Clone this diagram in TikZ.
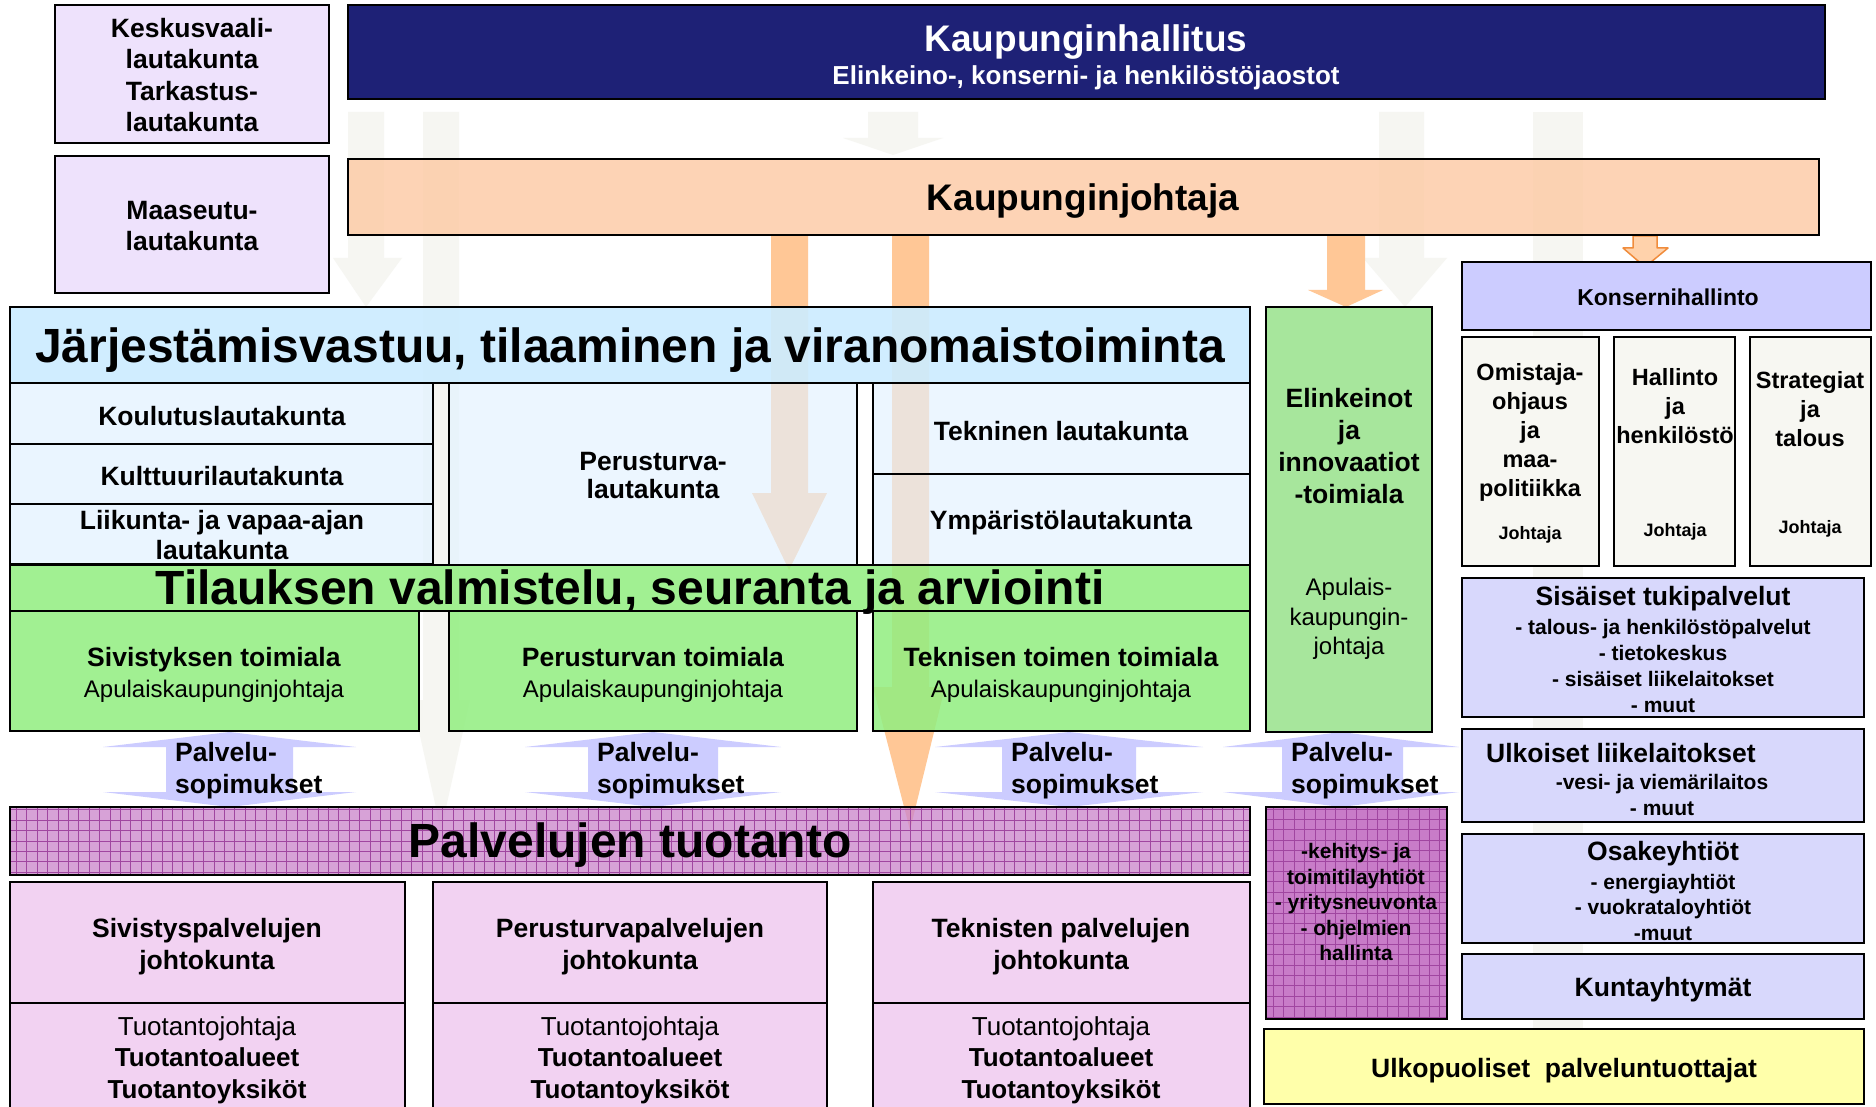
\documentclass[tikz,border=0pt]{standalone}
\usepackage{fontspec}
\setmainfont{Liberation Sans}
\definecolor{navy}{RGB}{30,33,118}
\definecolor{orbox}{RGB}{253,201,163}
\definecolor{lavl}{RGB}{238,226,252}
\definecolor{bluehead}{RGB}{204,236,255}
\definecolor{bluesub}{RGB}{226,242,255}
\definecolor{greenbox}{RGB}{145,238,128}
\definecolor{greencol}{RGB}{160,228,148}
\definecolor{purplebar}{RGB}{204,136,204}
\definecolor{purplebox}{RGB}{200,124,200}
\definecolor{gridpurple}{RGB}{160,70,160}
\definecolor{pinkbox}{RGB}{242,210,242}
\definecolor{konserni}{RGB}{204,204,255}
\definecolor{rightbox}{RGB}{216,216,252}
\definecolor{offwhite}{RGB}{247,247,242}
\definecolor{yellowbox}{RGB}{255,255,170}
\definecolor{palvarrow}{RGB}{204,204,255}
\definecolor{orarrow}{RGB}{255,199,150}
\definecolor{orborder}{RGB}{240,140,60}
\definecolor{grayarrow}{RGB}{246,246,242}
\newcommand\fsz[2]{\fontsize{#1}{#2}\selectfont}
\tikzset{
  bx/.style={draw=black, line width=2pt, inner sep=0pt, rectangle},
  txt/.style={align=center, inner sep=0pt, text=black},
  pgrid/.style={path picture={\draw[gridpurple, line width=0.7pt] (path picture bounding box.south west) grid[step=10.4pt] (path picture bounding box.north east);}},
}
\newcommand\BX[6]{%
  \pgfmathsetmacro\bxcx{(#2+#4)/2}%
  \pgfmathsetmacro\bxcy{(#3+#5)/2}%
  \pgfmathsetmacro\bxw{#4-#2}%
  \pgfmathsetmacro\bxh{#5-#3}%
  \node[bx, #6, minimum width=\bxw pt, minimum height=\bxh pt] (#1) at (\bxcx,\bxcy) {};}
\newcommand\PSarrow[5]{%
  \pgfmathsetmacro\psc{(#2+#5)/2}%
  \fill[palvarrow] (\psc,732) -- (#5,747) -- (#4,747) -- (#4,792) -- (#5,792) -- (\psc,807) -- (#2,792) -- (#3,792) -- (#3,747) -- (#2,747) -- cycle;
  \pgfmathsetmacro\pst{#3+9}%
  \node[txt, anchor=west, align=left, font=\fsz{26.5}{32}\bfseries] (#1) at (\pst,771) {Palvelu-\\sopimukset};}
\begin{document}
\begin{tikzpicture}[x=1pt,y=-1pt]
\useasboundingbox (0,0) rectangle (1876,1107);
\fill[white] (0,0) rectangle (1876,1107);

% faint grey arrows from Kaupunginhallitus
\fill[grayarrow] (348,112) -- (384,112) -- (384,258) -- (402,258) -- (366,307) -- (333,258) -- (348,258) -- cycle;
\fill[grayarrow] (423,112) -- (459,112) -- (459,700) -- (470,700) -- (441,830) -- (412,700) -- (423,700) -- cycle;
\fill[grayarrow] (868,112) -- (918,112) -- (918,138) -- (943,138) -- (893,155) -- (843,138) -- (868,138) -- cycle;
\fill[grayarrow] (1379,112) -- (1424,112) -- (1424,258) -- (1447,258) -- (1405,307) -- (1363,258) -- (1379,258) -- cycle;
\fill[grayarrow] (1533,112) rectangle (1583,1030);

% orange arrows from Kaupunginjohtaja
\fill[orarrow] (771,235) -- (808,235) -- (808,493) -- (827,493) -- (789,570) -- (752,493) -- (771,493) -- cycle;
\fill[orarrow] (892,235) -- (929,235) -- (929,687) -- (945,687) -- (910,830) -- (873,687) -- (892,687) -- cycle;
\fill[orarrow] (1327,235) -- (1365,235) -- (1365,290) -- (1383,290) -- (1346,307) -- (1308,290) -- (1327,290) -- cycle;
\filldraw[fill=orarrow!80!white, draw=orborder, line width=1.5pt, line join=round] (1633,236) -- (1657,236) -- (1657,248) -- (1668,248) -- (1645,267) -- (1623,248) -- (1633,248) -- cycle;

% Palvelusopimukset double arrows
\PSarrow{ps1}{103}{166}{293}{356}
\PSarrow{ps2}{525}{588}{718}{781}
\PSarrow{ps3}{935}{1002}{1136}{1203}
\PSarrow{ps4}{1223}{1282}{1403}{1459}

% boxes
\BX{kv}{55}{5}{329}{143}{fill=lavl}
\BX{ms}{55}{156}{329}{293}{fill=lavl}
\BX{kh}{348}{5}{1825}{99}{fill=navy}
\BX{kj}{348}{159}{1819}{235}{fill=orbox, fill opacity=0.8}
\BX{jv}{10}{307}{1250}{383}{fill=bluehead, fill opacity=0.92}
\BX{kou}{10}{383}{433}{444}{fill=bluesub, fill opacity=0.7}
\BX{kul}{10}{444}{433}{504}{fill=bluesub, fill opacity=0.7}
\BX{lii}{10}{504}{433}{564}{fill=bluesub, fill opacity=0.7}
\BX{per}{449}{383}{857}{565}{fill=bluesub, fill opacity=0.65}
\BX{tek}{873}{383}{1250}{474}{fill=bluesub, fill opacity=0.65}
\BX{ymp}{873}{474}{1250}{565}{fill=bluesub, fill opacity=0.65}
\BX{til}{10}{565}{1250}{611}{fill=greenbox, fill opacity=0.85}
\BX{siv}{10}{611}{419}{731}{fill=greenbox, fill opacity=0.85}
\BX{pet}{449}{611}{857}{731}{fill=greenbox, fill opacity=0.85}
\BX{tet}{873}{611}{1250}{731}{fill=greenbox, fill opacity=0.85}
\BX{eli}{1266}{307}{1432}{732}{fill=greencol, fill opacity=0.92}
\BX{kon}{1462}{262}{1871}{330}{fill=konserni}
\BX{om}{1462}{337}{1599}{566}{fill=offwhite}
\BX{ha}{1614}{337}{1735}{566}{fill=offwhite}
\BX{st}{1750}{337}{1871}{566}{fill=offwhite}
\BX{sis}{1462}{578}{1864}{717}{fill=rightbox}
\BX{ulk}{1462}{729}{1864}{822}{fill=rightbox}
\BX{osa}{1462}{834}{1864}{943}{fill=rightbox}
\BX{kun}{1462}{954}{1864}{1019}{fill=rightbox}
\BX{ulp}{1264}{1029}{1864}{1104}{fill=yellowbox}
\BX{pt}{10}{807}{1250}{875}{fill=purplebar, fill opacity=0.78, pgrid}
\BX{elp}{1266}{807}{1447}{1019}{fill=purplebox, pgrid}
\BX{b1}{10}{882}{405}{1003}{fill=pinkbox}
\BX{b1b}{10}{1003}{405}{1115}{fill=pinkbox}
\BX{b2}{433}{882}{827}{1003}{fill=pinkbox}
\BX{b2b}{433}{1003}{827}{1115}{fill=pinkbox}
\BX{b3}{873}{882}{1250}{1003}{fill=pinkbox}
\BX{b3b}{873}{1003}{1250}{1115}{fill=pinkbox}

% texts
\node[txt, font=\fsz{26.5}{31.5}\bfseries] (t-kv) at (192,75) {Keskusvaali-\\lautakunta\\Tarkastus-\\lautakunta};
\node[txt, font=\fsz{26.5}{31.5}\bfseries] (t-ms) at (192,226) {Maaseutu-\\lautakunta};
\node[txt, text=white, font=\fsz{37}{44}\bfseries] (t-kh) at (1086,42) {Kaupunginhallitus};
\node[txt, text=white, font=\fsz{26}{30}\bfseries] (t-kh2) at (1086,78) {Elinkeino-, konserni- ja henkilöstöjaostot};
\node[txt, font=\fsz{37}{44}\bfseries] (t-kj) at (1083,201) {Kaupunginjohtaja};
\node[txt, font=\fsz{48}{56}\bfseries] (t-jv) at (630,350) {Järjestämisvastuu, tilaaminen ja viranomaistoiminta};
\node[txt, font=\fsz{26.5}{31}\bfseries] (t-kou) at (222,416) {Koulutuslautakunta};
\node[txt, font=\fsz{26.5}{31}\bfseries] (t-kul) at (222,476) {Kulttuurilautakunta};
\node[txt, font=\fsz{26.5}{30}\bfseries] (t-lii) at (222,535) {Liikunta- ja vapaa-ajan\\lautakunta};
\node[txt, font=\fsz{26.5}{28}\bfseries] (t-per) at (653,476) {Perusturva-\\lautakunta};
\node[txt, font=\fsz{26.5}{31}\bfseries] (t-tek) at (1061,431) {Tekninen lautakunta};
\node[txt, font=\fsz{26.5}{31}\bfseries] (t-ymp) at (1061,523) {Ympäristölautakunta};
\node[txt, font=\fsz{48}{56}\bfseries] (t-til) at (630,592) {Tilauksen valmistelu, seuranta ja arviointi};
\node[txt, font=\fsz{26.5}{31}] (t-siv) at (214,675) {\textbf{Sivistyksen toimiala}\\{\fsz{24}{31}Apulaiskaupunginjohtaja}};
\node[txt, font=\fsz{26.5}{31}] (t-pet) at (653,675) {\textbf{Perusturvan toimiala}\\{\fsz{24}{31}Apulaiskaupunginjohtaja}};
\node[txt, font=\fsz{26.5}{31}] (t-tet) at (1061,675) {\textbf{Teknisen toimen toimiala}\\{\fsz{24}{31}Apulaiskaupunginjohtaja}};
\node[txt, font=\fsz{26.5}{32.3}\bfseries] (t-eli) at (1349,446) {Elinkeinot\\ja\\innovaatiot\\-toimiala};
\node[txt, font=\fsz{24}{29.5}] (t-eli2) at (1349,619) {Apulais-\\kaupungin-\\johtaja};
\node[txt, font=\fsz{23}{28}\bfseries] (t-kon) at (1668,297) {Konsernihallinto};
\node[txt, font=\fsz{23.5}{29}\bfseries] (t-om) at (1530,432) {Omistaja-\\ohjaus\\ja\\maa-\\politiikka};
\node[txt, font=\fsz{18}{22}\bfseries] (t-om2) at (1530,535) {Johtaja};
\node[txt, font=\fsz{23.5}{29}\bfseries] (t-ha) at (1675,406) {Hallinto\\ja\\henkilöstö};
\node[txt, font=\fsz{18}{22}\bfseries] (t-ha2) at (1675,532) {Johtaja};
\node[txt, font=\fsz{23.5}{29}\bfseries] (t-st) at (1810,409) {Strategiat\\ja\\talous};
\node[txt, font=\fsz{18}{22}\bfseries] (t-st2) at (1810,529) {Johtaja};
\node[txt, font=\fsz{26.5}{31}\bfseries] (t-sis) at (1663,599) {Sisäiset tukipalvelut};
\node[txt, font=\fsz{21}{26}\bfseries] (t-sis2) at (1663,666) {- talous- ja henkilöstöpalvelut\\- tietokeskus\\- sisäiset liikelaitokset\\- muut};
\node[txt, anchor=west, font=\fsz{26.5}{31}\bfseries] (t-ulk) at (1486,753) {Ulkoiset liikelaitokset};
\node[txt, font=\fsz{21}{26}\bfseries] (t-ulk2) at (1662,795) {-vesi- ja viemärilaitos\\- muut};
\node[txt, font=\fsz{26.5}{31}\bfseries] (t-osa) at (1663,854) {Osakeyhtiöt};
\node[txt, font=\fsz{21}{25.5}\bfseries] (t-osa2) at (1663,907) {- energiayhtiöt\\- vuokrataloyhtiöt\\-muut};
\node[txt, font=\fsz{26.5}{31}\bfseries] (t-kun) at (1663,990) {Kuntayhtymät};
\node[txt, font=\fsz{26.5}{31}\bfseries] (t-ulp) at (1564,1071) {Ulkopuoliset\ \ palveluntuottajat};
\node[txt, font=\fsz{48}{56}\bfseries] (t-pt) at (630,845) {Palvelujen tuotanto};
\node[txt, font=\fsz{21}{25.5}\bfseries] (t-elp) at (1356,902) {-kehitys- ja\\toimitilayhtiöt\\- yritysneuvonta\\- ohjelmien\\hallinta};
\node[txt, font=\fsz{26.5}{32}\bfseries] (t-b1) at (207,947) {Sivistyspalvelujen\\johtokunta};
\node[txt, font=\fsz{26.5}{32}\bfseries] (t-b2) at (630,947) {Perusturvapalvelujen\\johtokunta};
\node[txt, font=\fsz{26.5}{32}\bfseries] (t-b3) at (1061,947) {Teknisten palvelujen\\johtokunta};
\node[txt, font=\fsz{26}{31.5}] (t-b1b) at (207,1060) {Tuotantojohtaja\\\textbf{Tuotantoalueet}\\\textbf{Tuotantoyksiköt}};
\node[txt, font=\fsz{26}{31.5}] (t-b2b) at (630,1060) {Tuotantojohtaja\\\textbf{Tuotantoalueet}\\\textbf{Tuotantoyksiköt}};
\node[txt, font=\fsz{26}{31.5}] (t-b3b) at (1061,1060) {Tuotantojohtaja\\\textbf{Tuotantoalueet}\\\textbf{Tuotantoyksiköt}};
\end{tikzpicture}
\end{document}
